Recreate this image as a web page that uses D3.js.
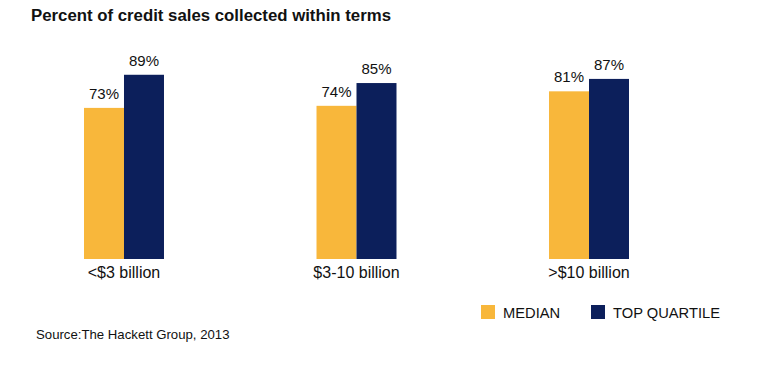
<!DOCTYPE html>
<html><head><meta charset="utf-8">
<script src="https://cdn.jsdelivr.net/npm/d3@7"></script>
<style>body{margin:0;background:#fff;} text{font-family:"Liberation Sans",Arial,sans-serif;}</style>
</head><body>
<svg id="c" width="759" height="367"></svg>
<script>
const categories = ["<$3 billion", "$3-10 billion", ">$10 billion"];
const seriesNames = ["MEDIAN", "TOP QUARTILE"];
const median = [73, 74, 81];
const topQuartile = [89, 85, 87];
const colors = ["#F8B73B", "#0C1F5B"];

const svg = d3.select("#c");
const x0 = d3.scaleBand().domain(categories).range([84, 629]).paddingInner(0.656).paddingOuter(0);
const x1 = d3.scaleBand().domain(seriesNames).range([0, x0.bandwidth()]);
const y = d3.scaleLinear().domain([0, 100]).range([259, 52]);

svg.append("text").attr("x", 31).attr("y", 21).attr("font-size", 16.8).attr("font-weight", "bold").attr("fill", "#111")
  .text("Percent of credit sales collected within terms");

const data = categories.map((c, i) => ({cat: c, vals: [median[i], topQuartile[i]]}));
const g = svg.selectAll("g.grp").data(data).enter().append("g").attr("transform", d => `translate(${x0(d.cat)},0)`);
g.selectAll("rect").data(d => d.vals.map((v, j) => ({v, s: seriesNames[j], j}))).enter().append("rect")
  .attr("x", d => x1(d.s)).attr("width", x1.bandwidth())
  .attr("y", d => y(d.v)).attr("height", d => y(0) - y(d.v)).attr("fill", d => colors[d.j]);
g.selectAll("text.val").data(d => d.vals.map((v, j) => ({v, s: seriesNames[j], j}))).enter().append("text")
  .attr("x", d => x1(d.s) + x1.bandwidth() / 2).attr("y", d => y(d.v) - 9)
  .attr("text-anchor", "middle").attr("font-size", 15).attr("fill", "#111").text(d => d.v + "%");

const xAxis = svg.append("g").attr("transform", `translate(0,${y(0)})`).call(d3.axisBottom(x0).tickSize(0).tickPadding(8));
xAxis.select(".domain").remove();
xAxis.selectAll("text").attr("font-size", 16).attr("fill", "#111").attr("font-family", "Liberation Sans,Arial,sans-serif");

const leg = svg.append("g");
const legX = [481, 591];
seriesNames.forEach((s, i) => {
  leg.append("rect").attr("x", legX[i]).attr("y", 305).attr("width", 14).attr("height", 14).attr("fill", colors[i]);
  leg.append("text").attr("x", legX[i] + 22).attr("y", 318).attr("font-size", 14.7).attr("fill", "#111").text(s);
});

svg.append("text").attr("x", 36).attr("y", 339).attr("font-size", 13.2).attr("fill", "#111").text("Source:The Hackett Group, 2013");
</script>
</body></html>
